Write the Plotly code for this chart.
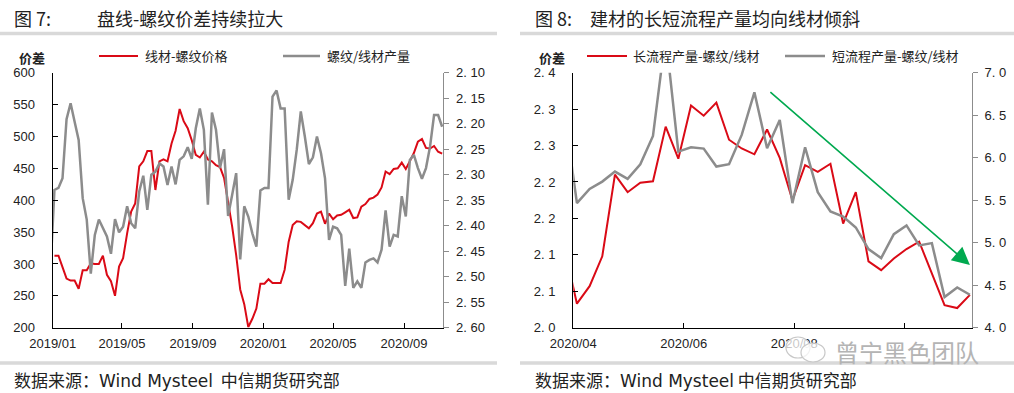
import plotly.graph_objects as go
import pandas as pd

# ---------------- data ----------------
# Figure 7 (weekly, from 2018-12-28)
left_start = "2018-12-28"
wire_rebar_spread = [None,
    313, 313, 295, 277, 274, 274, 261, 290, 290, 301,
    300, 300, 313, 283, 273, 250, 296, 309, 348, 382,
    395, 453, 461, 477, 477, 416, 461, 464, 461, 489,
    509, 543, 524, 513, 494, 471, 467, 476, 464, 461,
    455, 452, 435, 398, 359, 314, 260, 237, 201, 214,
    230, 269, 269, 276, 270, 270, 270, 291, 335, 361,
    367, 366, 361, 356, 364, 379, 382, 363, 379, 370,
    376, 377, 381, 385, 372, 373, 390, 394, 402, 404,
    409, 420, 445, 441, 449, 450, 459, 449, 461, 474,
    492, 496, 482, 481, 485, 476, 473]
rebar_wire_output = [2.490,
    2.330, 2.326, 2.307, 2.191, 2.160, 2.196, 2.232, 2.346, 2.388, 2.494,
    2.418, 2.388, 2.405, 2.421, 2.455, 2.387, 2.413, 2.402, 2.362, 2.395,
    2.405, 2.333, 2.302, 2.369, 2.300, 2.294, 2.278, 2.284, 2.320, 2.284,
    2.319, 2.271, 2.264, 2.246, 2.269, 2.209, 2.170, 2.212, 2.359, 2.178,
    2.212, 2.287, 2.250, 2.381, 2.340, 2.297, 2.466, 2.362, 2.382, 2.415,
    2.441, 2.331, 2.326, 2.326, 2.147, 2.135, 2.170, 2.170, 2.349, 2.310,
    2.251, 2.176, 2.225, 2.279, 2.266, 2.225, 2.258, 2.307, 2.428, 2.402,
    2.405, 2.418, 2.518, 2.445, 2.522, 2.509, 2.522, 2.472, 2.467, 2.464,
    2.472, 2.447, 2.370, 2.441, 2.418, 2.421, 2.342, 2.382, 2.271, 2.261,
    2.287, 2.308, 2.287, 2.245, 2.183, 2.183, 2.206]

left_xticks = ["2019-01-01", "2019-05-01", "2019-09-01", "2020-01-01", "2020-05-01", "2020-09-01"]
left_xlabels = ["2019/01", "2019/05", "2019/09", "2020/01", "2020/05", "2020/09"]
left_y1_ticks = [200, 250, 300, 350, 400, 450, 500, 550, 600]
left_y2_ticks = [2.10, 2.15, 2.20, 2.25, 2.30, 2.35, 2.40, 2.45, 2.50, 2.55, 2.60]
left_y2_labels = ["2. 10", "2. 15", "2. 20", "2. 25", "2. 30", "2. 35", "2. 40", "2. 45", "2. 50", "2. 55", "2. 60"]

# Figure 8 (weekly, from 2020-03-27)
right_start = "2020-03-27"
long_process = [2.111, 2.033, 2.057, 2.098, 2.210, 2.186, 2.199, 2.201, 2.276, 2.232,
    2.305, 2.291, 2.309, 2.258, 2.246, 2.238, 2.272, 2.233, 2.175, 2.223,
    2.214, 2.225, 2.143, 2.186, 2.091, 2.079, 2.095, 2.108, 2.118, 2.075,
    2.031, 2.027, 2.045]
short_process = [6.55, 5.465, 5.633, 5.719, 5.837, 5.751, 5.923, 6.256, 7.44, 6.072,
    6.123, 6.107, 5.896, 5.923, 6.268, 6.769, 6.111, 6.444, 5.465, 6.123,
    5.594, 5.367, 5.308, 5.179, 4.925, 4.819, 5.101, 5.203, 4.968, 4.995,
    4.361, 4.474, 4.388]

right_xticks = ["2020-04-01", "2020-06-01", "2020-08-01", "2020-10-01"]
right_xlabels = ["2020/04", "2020/06", "2020/08", ""]
right_y1_ticks = [2.00, 2.05, 2.10, 2.15, 2.20, 2.25, 2.30, 2.35]
right_y1_labels = ["2. 0", "2. 1", "2. 1", "2. 2", "2. 2", "2. 3", "2. 3", "2. 4"]
right_y2_ticks = [4.0, 4.5, 5.0, 5.5, 6.0, 6.5, 7.0]
right_y2_labels = ["4. 0", "4. 5", "5. 0", "5. 5", "6. 0", "6. 5", "7. 0"]

trend_start = ("2020-07-18", 2.325)
trend_end = ("2020-11-06", 2.086)

# ---------------- styling ----------------
W, H = 1014, 393
RED = "#DA0A16"
GRAY = "#8C8C8C"
AXGRAY = "#8C8C8C"
TXT = "#222222"
CJK = "Noto Sans CJK SC"
NUM = "Liberation Sans"


def px(x):
    return x / W


def py(y):
    return 1 - y / H


dates_l = pd.date_range(left_start, periods=len(wire_rebar_spread), freq="7D")
dates_r = pd.date_range(right_start, periods=len(long_process), freq="7D")

fig = go.Figure()
fig.add_trace(go.Scatter(x=dates_l, y=wire_rebar_spread, xaxis="x", yaxis="y", mode="lines",
                         line=dict(color=RED, width=2), name="线材-螺纹价格", showlegend=False))
fig.add_trace(go.Scatter(x=dates_l, y=rebar_wire_output, xaxis="x", yaxis="y2", mode="lines",
                         line=dict(color=GRAY, width=2.5), name="螺纹/线材产量", showlegend=False))
fig.add_trace(go.Scatter(x=dates_r, y=long_process, xaxis="x2", yaxis="y3", mode="lines",
                         line=dict(color=RED, width=2), name="长流程产量-螺纹/线材", showlegend=False))
fig.add_trace(go.Scatter(x=dates_r, y=short_process, xaxis="x2", yaxis="y4", mode="lines",
                         line=dict(color=GRAY, width=2.5), name="短流程产量-螺纹/线材", showlegend=False))

ydom = [py(327.7), py(72.7)]
tickfont = dict(family=NUM, size=13, color=TXT)


def xax(domain, anchor, rng, tv, tt):
    return dict(domain=domain, anchor=anchor, type="date", range=rng, tickvals=tv, ticktext=tt,
                ticks="inside", ticklen=5, tickcolor="black", tickwidth=1, showline=True,
                linecolor="black", linewidth=1.3, showgrid=False, zeroline=False, tickfont=tickfont,
                automargin=False, ticklabelstandoff=4)


def yax_left(anchor, rng, tv, tt=None):
    d = dict(domain=ydom, anchor=anchor, range=rng, tickvals=tv, ticks="inside", ticklen=5,
             tickcolor="black", tickwidth=1, showline=True, linecolor="black", linewidth=1.3,
             showgrid=False, zeroline=False, tickfont=tickfont, ticklabelstandoff=14, automargin=False)
    if tt is not None:
        d["ticktext"] = tt
    return d


def yax_right(over, anchor, rng, tv, tt):
    return dict(overlaying=over, anchor=anchor, side="right", range=rng, tickvals=tv, ticktext=tt,
                ticks="outside", ticklen=5, tickcolor=AXGRAY, tickwidth=1, showline=True,
                linecolor=AXGRAY, linewidth=1.3, showgrid=False, zeroline=False, tickfont=tickfont,
                ticklabelstandoff=4, automargin=False)


fig.update_layout(
    template="none",
    width=W, height=H, autosize=False,
    margin=dict(l=0, r=0, t=0, b=0, pad=0),
    paper_bgcolor="white", plot_bgcolor="white",
    hovermode=False,
    xaxis=xax([px(52.7), px(443.3)], "y", ["2019-01-01", "2020-11-08"], left_xticks, left_xlabels),
    yaxis=yax_left("x", [200, 600], left_y1_ticks),
    yaxis2=yax_right("y", "x", [2.60, 2.10], left_y2_ticks, left_y2_labels),
    xaxis2=xax([px(573.3), px(971.7)], "y3", ["2020-04-01", "2020-11-07"], right_xticks, right_xlabels),
    yaxis3=yax_left("x2", [2.0, 2.35], right_y1_ticks, right_y1_labels),
    yaxis4=yax_right("y3", "x2", [4.0, 7.0], right_y2_ticks, right_y2_labels),
)

ann = []


def text(x, y, s, size=13, family=CJK, color=TXT, anchor="left"):
    ann.append(dict(x=px(x), y=py(y), xref="paper", yref="paper", text=s, showarrow=False,
                    xanchor=anchor, yanchor="middle", font=dict(family=family, size=size, color=color)))


# titles
text(12, 18, "图 7:", size=18)
text(95, 18, "盘线-螺纹价差持续拉大", size=18)
text(533, 18, "图 8:", size=18)
text(588, 18, "建材的长短流程产量均向线材倾斜", size=18)
# axis titles
text(17, 57, "<b>价差</b>", size=13)
text(537, 57, "<b>价差</b>", size=13)
# legends
text(143, 56, "线材-螺纹价格")
text(325, 56, "螺纹/线材产量")
text(631, 56, "长流程产量-螺纹/线材")
text(830, 56, "短流程产量-螺纹/线材")
# sources
wm = "<span style='font-family:DejaVu Sans'>Wind Mysteel</span>"
text(12, 379, "数据来源：" + wm + "&nbsp;&nbsp;中信期货研究部", size=17)
text(533, 379, "数据来源：" + wm + " 中信期货研究部", size=17)
# watermark
text(907, 351, "曾宁黑色团队", size=24, color="#B4B4B4", anchor="center")

# trend arrow
ann.append(dict(x=trend_end[0], y=trend_end[1], xref="x2", yref="y3",
                ax=trend_start[0], ay=trend_start[1], axref="x2", ayref="y3",
                showarrow=True, arrowhead=2, arrowsize=2.2, arrowwidth=1.6, arrowcolor="#00A94F",
                text=""))

fig.update_layout(annotations=ann)

shapes = []


def hline(x0, x1, y, color, width):
    shapes.append(dict(type="line", xref="paper", yref="paper", x0=px(x0), x1=px(x1), y0=py(y), y1=py(y),
                       line=dict(color=color, width=width)))


# separators
hline(0, 497, 33.5, "#D9D9D9", 3.5)
hline(520, 1014, 33.5, "#D9D9D9", 3.5)
hline(0, 497, 363, "#D9D9D9", 3.5)
hline(520, 1014, 363, "#D9D9D9", 3.5)
# legend samples
hline(99, 138, 56, RED, 2)
hline(283, 320, 56, GRAY, 2.5)
hline(587, 627, 56, RED, 2)
hline(785, 825, 56, GRAY, 2.5)
# wechat-like icon of watermark
shapes.append(dict(type="circle", xref="paper", yref="paper", x0=px(786), x1=px(810), y0=py(358), y1=py(337),
                   line=dict(color="#C8C8C8", width=1.2), fillcolor="rgba(255,255,255,0.75)", layer="above"))
shapes.append(dict(type="circle", xref="paper", yref="paper", x0=px(801), x1=px(825), y0=py(362), y1=py(343),
                   line=dict(color="#C8C8C8", width=1.2), fillcolor="rgba(255,255,255,0.75)", layer="above"))
fig.update_layout(shapes=shapes)

fig.write_html("out.html", config={"displayModeBar": False},
               post_script="document.body.style.margin='0';document.body.style.overflow='hidden';")
